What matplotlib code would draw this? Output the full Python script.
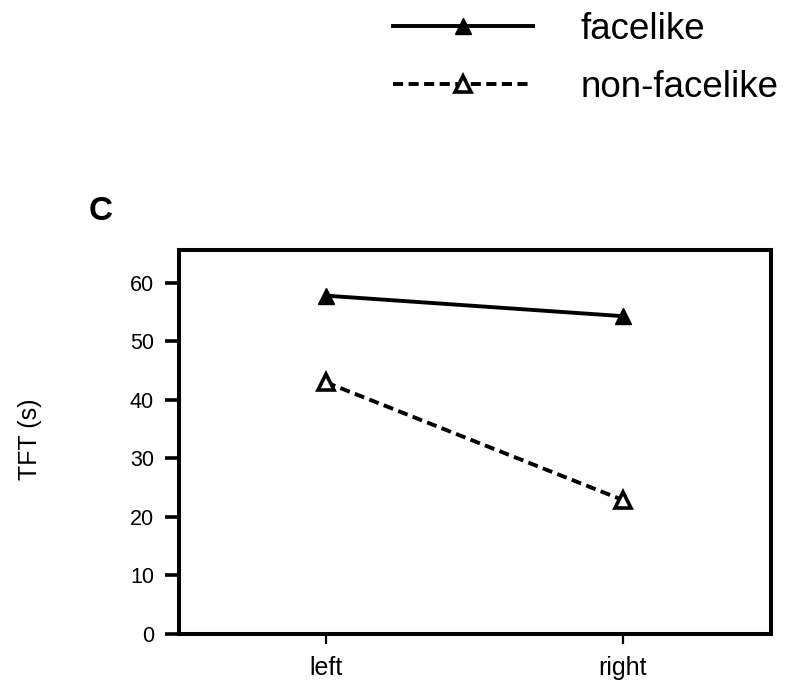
import matplotlib
matplotlib.use("Agg")
import matplotlib.pyplot as plt

plt.rcParams['font.family'] = ['Liberation Sans', 'DejaVu Sans']

conditions = ["left", "right"]
facelike = [57.8, 54.3]
non_facelike = [43.0, 22.9]
y_ticks = [0, 10, 20, 30, 40, 50, 60]

W, H = 794, 687
fig = plt.figure(figsize=(W / 100, H / 100), dpi=100)
ax = fig.add_axes([179 / W, 1 - 634 / H, (771 - 179) / W, (634 - 250) / H])

x = list(range(len(conditions)))
ax.plot(x, facelike, color='black', lw=2.8, marker='^', markersize=11,
        markerfacecolor='black', markeredgecolor='black', label='facelike')
ax.plot(x, non_facelike, color='black', lw=2.8, dashes=(2.6, 1.4), marker='^',
        markersize=11, markerfacecolor='white', markeredgecolor='black',
        markeredgewidth=2.6, label='non-facelike')

ax.set_xlim(-0.495, 1.5)
ax.set_ylim(0, 65.6)
ax.set_xticks(x)
ax.set_xticklabels(conditions, fontsize=18)
ax.set_yticks(y_ticks)
ax.set_yticklabels([str(v) for v in y_ticks], fontsize=15.5)

for s in ax.spines.values():
    s.set_linewidth(2.9)
ax.tick_params(axis='y', direction='out', length=10, width=2.6, pad=8)
ax.tick_params(axis='x', direction='out', length=7, width=1.6, pad=9)

fig.text(30 / W, 1 - 439 / H, 'TFT (s)', rotation=90, ha='center', va='center', fontsize=18)
fig.text(101 / W, 1 - 212 / H, 'C', ha='center', va='center', fontsize=24, fontweight='bold')

fig.legend(loc='upper left', bbox_to_anchor=(393 / W, 1 - 12 / H), frameon=False,
           fontsize=26.5, handlelength=3.8, handletextpad=1.3, labelspacing=0.62,
           borderpad=0, borderaxespad=0)

fig.savefig('out.png', dpi=100)
